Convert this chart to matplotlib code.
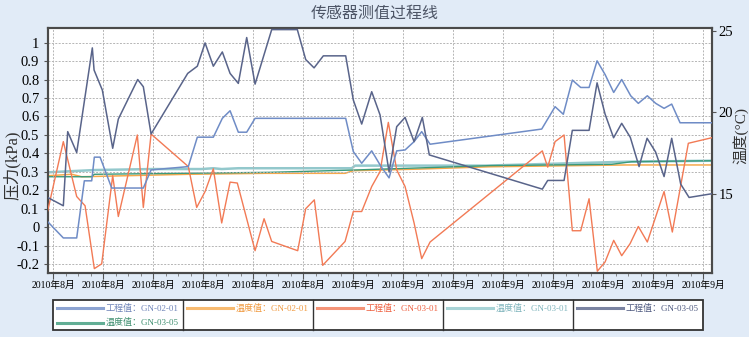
# pressure / temperature process lines for sensors GN-02-01, GN-03-01, GN-03-05

import matplotlib
matplotlib.use('Agg')
import matplotlib.pyplot as plt
from matplotlib.lines import Line2D
from matplotlib.patches import Rectangle
from matplotlib.ticker import MultipleLocator

plt.rcParams['font.family'] = ['Liberation Serif', 'Noto Sans CJK SC', 'DejaVu Sans']

# x = days after the first tick (2010-08-08)
tick_days = [0, 4, 8, 12, 16, 20, 24, 28, 32, 36, 40, 44, 48, 52]
tick_labels = ['2010年8月'] * 6 + ['2010年9月'] * 8

# 工程值 GN-02-01 (kPa)
eng_0201_x = [-0.45, 0.80, 1.87, 2.48, 3.07, 3.28, 3.74, 4.67, 7.20, 7.82, 10.80, 11.52, 12.80,
              13.52, 14.14, 14.80, 15.47, 16.14, 23.39, 24.00, 24.67, 25.47, 26.22, 26.86, 27.47,
              28.14, 28.86, 29.47, 30.14, 39.07, 40.14, 40.80, 41.52, 42.19, 42.86, 43.50, 44.14,
              44.83, 45.47, 46.19, 46.80, 47.52, 48.19, 48.86, 49.47, 50.14, 52.67]
eng_0201_y = [0.031, -0.057, -0.057, 0.252, 0.252, 0.380, 0.380, 0.213, 0.213, 0.311, 0.329, 0.488, 0.488,
              0.590, 0.631, 0.515, 0.515, 0.590, 0.590, 0.410, 0.347, 0.414, 0.329, 0.268, 0.414,
              0.419, 0.464, 0.518, 0.450, 0.532, 0.653, 0.612, 0.797, 0.757, 0.757, 0.901, 0.827,
              0.730, 0.800, 0.712, 0.671, 0.712, 0.671, 0.644, 0.667, 0.566, 0.566]

# 工程值 GN-03-01 (kPa)
eng_0301_x = [-0.45, 0.80, 1.87, 2.54, 3.28, 3.87, 4.75, 5.20, 6.72, 7.20, 7.82, 10.80, 11.47, 12.14,
              12.80, 13.47, 14.14, 14.72, 16.14, 16.86, 17.47, 19.55, 20.19, 20.88, 21.55, 23.34,
              24.00, 24.67, 25.47, 26.14, 26.80, 27.47, 28.14, 28.86, 29.47, 30.14, 39.12, 39.55,
              40.14, 40.86, 41.52, 42.19, 42.86, 43.52, 44.14, 44.83, 45.47, 46.14, 46.80, 47.52,
              48.86, 49.52, 50.80, 52.67]
eng_0301_y = [0.090, 0.464, 0.167, 0.117, -0.223, -0.197, 0.280, 0.059, 0.500, 0.108, 0.505, 0.329, 0.108, 0.194,
              0.317, 0.024, 0.245, 0.240, -0.126, 0.047, -0.076, -0.126, 0.101, 0.149, -0.205, -0.076,
              0.086, 0.086, 0.221, 0.302, 0.568, 0.311, 0.221, 0.024, -0.169, -0.079, 0.414, 0.326,
              0.464, 0.500, -0.018, -0.018, 0.155, -0.237, -0.187, -0.070, -0.153, -0.088, 0.005, -0.079,
              0.194, -0.025, 0.455, 0.485]

# 工程值 GN-03-05 (kPa)
eng_0305_x = [-0.45, 0.80, 1.15, 1.87, 3.12, 3.26, 3.92, 4.75, 5.20, 6.75, 7.20, 7.82, 10.75, 11.52,
              12.14, 12.80, 13.52, 14.14, 14.80, 15.47, 16.14, 17.47, 19.52, 20.19, 20.86, 21.60,
              23.39, 24.00, 24.67, 25.47, 26.14, 26.86, 27.47, 28.14, 28.86, 29.52, 30.08, 39.12,
              39.55, 40.86, 41.52, 42.86, 43.50, 44.14, 44.82, 45.47, 46.16, 46.86, 47.50, 48.18,
              48.86, 49.47, 50.19, 50.86, 52.67]
eng_0305_y = [0.162, 0.117, 0.518, 0.405, 0.971, 0.851, 0.743, 0.428, 0.586, 0.800, 0.761, 0.505, 0.833, 0.872,
              0.998, 0.872, 0.949, 0.833, 0.779, 1.027, 0.775, 1.070, 1.070, 0.908, 0.863, 0.928,
              0.928, 0.689, 0.559, 0.734, 0.608, 0.300, 0.545, 0.595, 0.464, 0.595, 0.392, 0.207,
              0.254, 0.254, 0.525, 0.525, 0.782, 0.613, 0.485, 0.563, 0.487, 0.329, 0.482, 0.408,
              0.275, 0.482, 0.234, 0.162, 0.182]

# 温度值 (°C)
temp_0201_x = [-0.45, 1.48, 2.27, 10.80, 16.94, 23.34, 24.00, 29.34, 34.94, 45.74, 52.67]
temp_0201_y = [16.13, 16.22, 16.07, 16.22, 16.28, 16.28, 16.44, 16.54, 16.68, 16.79, 16.79]

temp_0301_x = [-0.45, 3.34, 7.87, 11.84, 12.80, 13.47, 14.80, 23.87, 24.14, 34.54, 45.98, 52.67]
temp_0301_y = [16.34, 16.48, 16.54, 16.54, 16.59, 16.54, 16.59, 16.59, 16.75, 16.75, 16.99, 17.05]

temp_0305_x = [-0.45, 3.07, 3.28, 17.34, 24.00, 34.94, 44.67, 46.27, 52.67]
temp_0305_y = [16.07, 16.07, 16.22, 16.34, 16.48, 16.75, 16.83, 16.99, 17.05]

c_eng_0201 = '#6f8cc6'
c_temp_0201 = '#f5a94c'
c_eng_0301 = '#f27a55'
c_temp_0301 = '#93c8cc'
c_eng_0305 = '#59648a'
c_temp_0305 = '#3b9a7b'

W, H = 749, 337
fig = plt.figure(figsize=(W / 100, H / 100), dpi=100)
fig.patch.set_facecolor('#e1ebf7')

ax = fig.add_axes([47.7 / W, 1 - 272.7 / H, 664 / W, 244.4 / H])
ax2 = ax.twinx()

ax.plot(eng_0201_x, eng_0201_y, color=c_eng_0201, lw=1.1, zorder=4)
ax.plot(eng_0301_x, eng_0301_y, color=c_eng_0301, lw=1.0, zorder=3)
ax.plot(eng_0305_x, eng_0305_y, color=c_eng_0305, lw=1.1, zorder=5)
ax2.plot(temp_0301_x, temp_0301_y, color=c_temp_0301, lw=1.8)
ax2.plot(temp_0201_x, temp_0201_y, color=c_temp_0201, lw=1.1)
ax2.plot(temp_0305_x, temp_0305_y, color=c_temp_0305, lw=1.0)

# keep pressure lines above temperature lines
ax.set_zorder(ax2.get_zorder() + 1)
ax.patch.set_visible(False)
ax2.patch.set_facecolor('white')
ax2.patch.set_visible(True)

ax.set_xlim(-0.45, 52.67)
ax.set_ylim(-0.245, 1.077)
ax2.set_ylim(10.2, 25.15)

ax.set_xticks(tick_days)
ax.set_xticklabels(tick_labels, fontsize=7)
ax.xaxis.set_minor_locator(MultipleLocator(1))
ax.set_yticks([i / 10 for i in range(-2, 11)])
ax.set_yticklabels(['-0.2', '-0.1', '0', '0.1', '0.2', '0.3', '0.4', '0.5', '0.6', '0.7', '0.8', '0.9', '1'],
                   fontsize=10.5)
ax2.set_yticks([15, 20, 25])
ax2.set_yticklabels(['15', '20', '25'], fontsize=10.5)

ax.tick_params(axis='x', which='major', length=4, pad=2, color='#555555')
ax.tick_params(axis='x', which='minor', length=2.5, color='#777777')
ax.tick_params(axis='y', length=3, pad=3, color='#555555')
ax2.tick_params(axis='y', length=3, pad=2, color='#555555')

ax.grid(True, which='major', color='#b5b5b5', linestyle=(0, (2, 1.5)), linewidth=0.7)
for a in (ax, ax2):
    for s in a.spines.values():
        s.set_color('#4a4a4a')
        s.set_linewidth(1.5)

ax.set_ylabel('压力(kPa)', fontsize=12, color='#333333', va='center', ha='center')
ax.yaxis.set_label_coords(-0.054, 0.44)
ax2.set_ylabel('温度(°C)', fontsize=11, color='#333333', rotation=90, va='center', ha='center')
ax2.yaxis.set_label_coords(1.044, 0.563)

fig.text(0.5, 1 - 14 / H, '传感器测值过程线', ha='center', va='center', fontsize=11.5, color='#4d5566')

# legend drawn as a boxed 5-column table
box_l, box_r, box_t, box_b = 52.6, 703.0, 300.0, 330.0
fig.add_artist(Rectangle((box_l / W, 1 - box_b / H), (box_r - box_l) / W, (box_b - box_t) / H,
                         transform=fig.transFigure, facecolor='white', edgecolor='#333333', lw=1.3))
col_w = (box_r - box_l) / 5
for k in range(1, 5):
    xk = (box_l + k * col_w) / W
    fig.add_artist(Line2D([xk, xk], [1 - box_b / H, 1 - box_t / H], transform=fig.transFigure,
                          color='#333333', lw=1.0))

legend_items = [
    (0, 0, '工程值：GN-02-01', c_eng_0201, '#6f84b8'),
    (1, 0, '温度值：GN-02-01', c_temp_0201, '#f09a40'),
    (2, 0, '工程值：GN-03-01', c_eng_0301, '#ee6040'),
    (3, 0, '温度值：GN-03-01', c_temp_0301, '#7fb4bc'),
    (4, 0, '工程值：GN-03-05', c_eng_0305, '#4f5a80'),
    (0, 1, '温度值：GN-03-05', c_temp_0305, '#3f8f70'),
]
row_y = [308.0, 322.5]
for col, row, label, lc, tc in legend_items:
    x0 = box_l + col * col_w
    yy = 1 - row_y[row] / H
    fig.add_artist(Line2D([(x0 + 4) / W, (x0 + 50) / W], [yy, yy], transform=fig.transFigure,
                          color=lc, lw=2.2, alpha=0.8))
    fig.text((x0 + 53) / W, yy, label, ha='left', va='center', fontsize=6.5, color=tc)

plt.savefig('out.png', dpi=100, facecolor=fig.get_facecolor())
